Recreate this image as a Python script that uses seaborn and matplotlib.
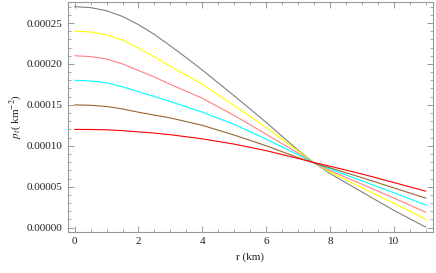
import numpy as np
import pandas as pd
import matplotlib
matplotlib.use("Agg")
import matplotlib.pyplot as plt
from matplotlib.ticker import MultipleLocator, FormatStrFormatter
import seaborn as sns

# radius (km) and tangential pressure (km^-2)
r_km = [0, 0.5, 1, 1.5, 2, 2.5, 3, 3.5, 4, 5, 6, 7, 7.5, 8, 9, 10, 11]
p_gray = [0.000270, 0.0002688, 0.000265, 0.000258, 0.000248, 0.000236, 0.000222, 0.0002075, 0.0001925,
          0.000161, 0.0001285, 0.0000945, 0.000079, 0.000066, 0.0000435, 0.000021, 0.0000005]
p_yellow = [0.000240, 0.000239, 0.0002355, 0.000229, 0.000219, 0.0002085, 0.000197, 0.000186, 0.000175,
            0.000149, 0.000122, 0.0000935, 0.000079, 0.0000675, 0.0000485, 0.0000295, 0.000010]
p_pink = [0.000210, 0.000209, 0.000206, 0.000200, 0.000192, 0.000184, 0.000175, 0.0001665, 0.000158,
          0.000137, 0.000114, 0.000091, 0.000079, 0.0000695, 0.000053, 0.000036, 0.0000187]
p_cyan = [0.000180, 0.0001792, 0.000177, 0.000172, 0.000166, 0.000160, 0.000154, 0.0001475, 0.000141,
          0.000126, 0.000108, 0.000089, 0.000079, 0.0000715, 0.000057, 0.0000425, 0.0000275]
p_brown = [0.000150, 0.0001495, 0.000148, 0.000145, 0.000141, 0.0001375, 0.000134, 0.0001295, 0.000125,
           0.000113, 0.000100, 0.0000855, 0.000079, 0.000073, 0.000061, 0.0000485, 0.000036]
p_red = [0.000120, 0.0001199, 0.0001195, 0.0001185, 0.000117, 0.0001155, 0.0001135, 0.000111, 0.0001085,
         0.000102, 0.000094, 0.0000845, 0.0000795, 0.000075, 0.0000655, 0.000055, 0.0000445]

curve_names = ["gray", "yellow", "pink", "cyan", "brown", "red"]
curve_colors = ["#808080", "#ffff00", "#ff8080", "#00ffff", "#996633", "#ff0000"]

rows = []
for name, vals in zip(curve_names, [p_gray, p_yellow, p_pink, p_cyan, p_brown, p_red]):
    for r, p in zip(r_km, vals):
        rows.append({"r": r, "p": p, "curve": name})
df = pd.DataFrame(rows)

sns.set_style("ticks")
plt.rcParams['font.family'] = ['Liberation Serif', 'DejaVu Serif']
plt.rcParams['mathtext.fontset'] = 'stix'

fig = plt.figure(figsize=(4.36, 2.73), dpi=100)
ax = fig.add_axes([0.155, 0.150, 0.838, 0.8425])

sns.lineplot(data=df, x="r", y="p", hue="curve", hue_order=curve_names,
             palette=curve_colors, legend=False, linewidth=0.8, ax=ax)

ax.set_xlim(-0.22, 11.22)
ax.set_ylim(-0.0000054, 0.0002756)

ax.xaxis.set_major_locator(MultipleLocator(2))
ax.xaxis.set_minor_locator(MultipleLocator(0.5))
ax.yaxis.set_major_locator(MultipleLocator(0.00005))
ax.yaxis.set_minor_locator(MultipleLocator(0.00001))
ax.yaxis.set_major_formatter(FormatStrFormatter('%.5f'))

ax.tick_params(which='both', direction='in', top=True, right=True,
               color='#888888', labelsize=8, labelcolor='#222222')
ax.tick_params(which='major', length=4, width=0.6)
ax.tick_params(which='minor', length=2, width=0.5)
for s in ax.spines.values():
    s.set_color('#999999')
    s.set_linewidth(0.8)

ax.set_xlabel("r (km)", fontsize=8, color='#222222', labelpad=5)
ax.set_ylabel(r"$p_t$( km$^{-2}$)", fontsize=8, color='#222222', labelpad=2)

fig.savefig("out.png", dpi=100)
